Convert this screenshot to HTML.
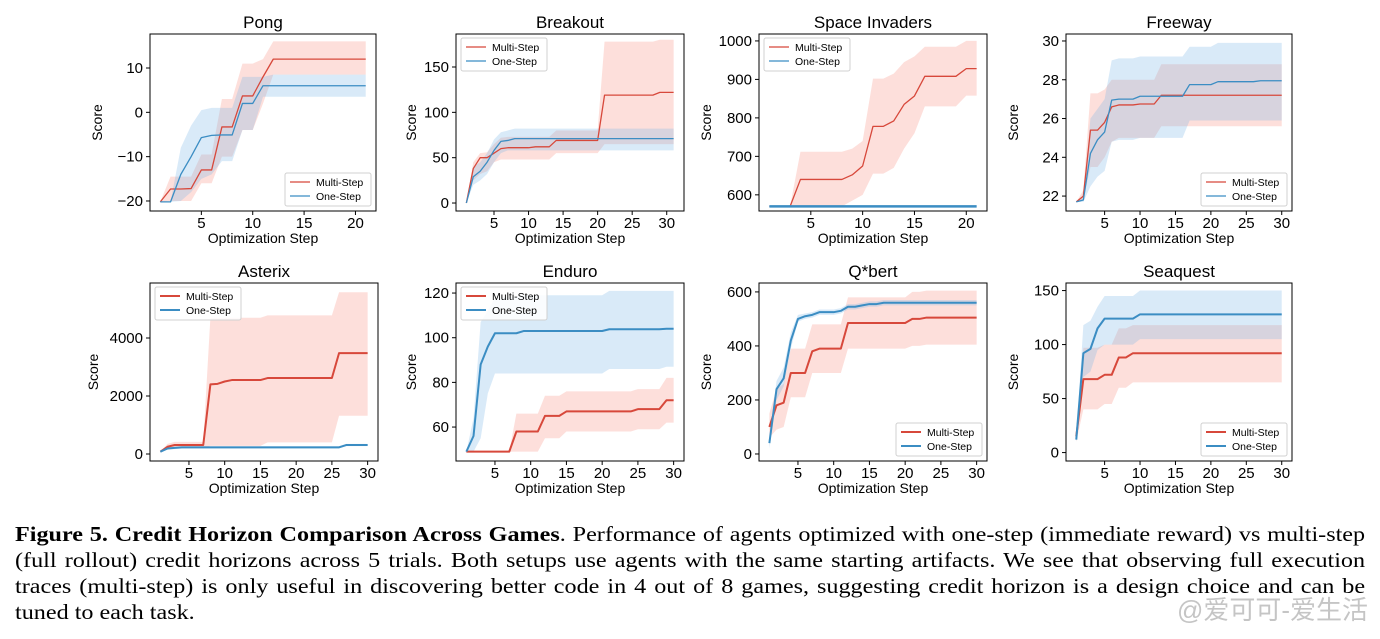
<!DOCTYPE html>
<html><head><meta charset="utf-8">
<style>
body{margin:0;background:#fff;width:1380px;height:639px;overflow:hidden;position:relative;font-family:"Liberation Sans",sans-serif}
svg{position:absolute;left:0;top:0}
.cap{position:absolute;left:15px;width:1174px;font-family:"Liberation Serif",serif;font-size:21px;line-height:26px;color:#000;transform:scale(1.15,1);transform-origin:0 0}
.cap div{text-align:justify;text-align-last:justify;white-space:nowrap}
.cap div.last{text-align-last:left}
.wm{position:absolute;right:12px;top:590px;font-family:"Liberation Sans","Noto Sans CJK SC",sans-serif;font-size:26px;color:rgba(150,150,150,0.55)}
</style></head>
<body>
<svg id="fig" width="1380" height="639"></svg>
<div class="cap" style="top:521px">
<div><b>Figure 5. Credit Horizon Comparison Across Games</b>. Performance of agents optimized with one-step (immediate reward) vs multi-step</div>
<div>(full rollout) credit horizons across 5 trials. Both setups use agents with the same starting artifacts. We see that observing full execution</div>
<div>traces (multi-step) is only useful in discovering better code in 4 out of 8 games, suggesting credit horizon is a design choice and can be</div>
<div class="last">tuned to each task.</div>
</div>
<div class="wm">@爱可可-爱生活</div>
<script>
const pongMulti=[-20.2,-17.3,-17.3,-17.2,-13,-13,-3.3,-3.3,3.7,3.7,8,12,12,12,12,12,12,12,12,12,12];
const pongMultiLo=[-20.2,-20,-20,-20,-16,-16,-10,-10,-4,-4,2,8.5,8.5,8.5,8.5,8.5,8.5,8.5,8.5,8.5,8.5];
const pongMultiHi=[-20.2,-14.5,-14.5,-14.5,-9.5,-9.5,3,3,11,11,12,16,16,16,16,16,16,16,16,16,16];
const pongOne=[-20.2,-20.2,-14,-10,-5.7,-5.2,-5.1,-5.1,2,2,6,6,6,6,6,6,6,6,6,6,6];
const pongOneLo=[-20.2,-20.2,-20,-18,-15,-14,-11,-11,-4,-4,3.5,3.5,3.5,3.5,3.5,3.5,3.5,3.5,3.5,3.5,3.5];
const pongOneHi=[-20.2,-20.2,-8,-3,0.5,1,1,1,8,8,8,8.5,8.5,8.5,8.5,8.5,8.5,8.5,8.5,8.5,8.5];

const brkMulti=[0,38,50,50,55,60,61,61,61,61,62,62,62,69,69,69,69,69,69,69,119,119,119,119,119,119,119,119,122,122,122];
const brkMultiLo=[0,25,32,35,45,48,48,48,48,48,48,48,48,55,55,55,55,55,55,55,65,65,65,65,65,65,65,65,65,65,65];
const brkMultiHi=[0,45,55,56,65,72,73,73,73,73,73,73,73,80,80,80,80,80,80,80,178,178,178,178,178,178,178,178,180,180,180];
const brkOne=[0,29,35,45,58,68,69,71,71,71,71,71,71,71,71,71,71,71,71,71,71,71,71,71,71,71,71,71,71,71,71];
const brkOneLo=[0,20,25,32,45,55,58,58,58,58,58,58,58,58,58,58,58,58,58,58,58,58,58,58,58,58,58,58,58,58,58];
const brkOneHi=[0,40,45,55,70,78,80,82,82,82,82,82,82,82,82,82,82,82,82,82,82,82,82,82,82,82,82,82,82,82,82];

const siMulti=[570,570,570,640,640,640,640,640,652,675,778,778,792,835,857,908,908,908,908,928,928];
const siMultiLo=[570,570,570,570,570,570,570,570,585,600,655,655,670,720,760,830,830,830,830,858,858];
const siMultiHi=[570,570,570,712,712,712,712,712,720,740,902,902,915,945,960,985,985,985,985,1000,1000];
const siOne=[570,570,570,570,570,570,570,570,570,570,570,570,570,570,570,570,570,570,570,570,570];
const siOneLo=[568,568,568,568,568,568,568,568,568,568,568,568,568,568,568,568,568,568,568,568,568];
const siOneHi=[572,572,572,572,572,572,572,572,572,572,572,572,572,572,572,572,572,572,572,572,572];

const fwMulti=[21.7,22,25.4,25.4,25.8,26.6,26.7,26.7,26.7,26.75,26.75,26.75,27.2,27.2,27.2,27.2,27.2,27.2,27.2,27.2,27.2,27.2,27.2,27.2,27.2,27.2,27.2,27.2,27.2,27.2];
const fwMultiLo=[21.7,21.8,23.5,23.5,24,24.8,25,25,25,25,25,25,25.6,25.6,25.6,25.6,25.6,25.6,25.6,25.6,25.6,25.6,25.6,25.6,25.6,25.6,25.6,25.6,25.6,25.6];
const fwMultiHi=[21.7,22.3,27.3,27.3,27.5,28,28,28,28,28,28,28,28.8,28.8,28.8,28.8,28.8,28.8,28.8,28.8,28.8,28.8,28.8,28.8,28.8,28.8,28.8,28.8,28.8,28.8];
const fwOne=[21.7,21.8,24.2,24.9,25.3,26.95,27,27,27,27.15,27.15,27.15,27.15,27.15,27.15,27.15,27.75,27.75,27.75,27.75,27.9,27.9,27.9,27.9,27.9,27.9,27.95,27.95,27.95,27.95];
const fwOneLo=[21.7,21.7,22.5,23,23.3,24.8,24.9,24.9,24.9,25,25,25,25,25,25,25,25.9,25.9,25.9,25.9,25.9,25.9,25.9,25.9,25.9,25.9,25.9,25.9,25.9,25.9];
const fwOneHi=[21.7,22,26,26.5,27,29,29.1,29.1,29.1,29.2,29.2,29.2,29.2,29.2,29.2,29.2,29.7,29.7,29.7,29.7,29.9,29.9,29.9,29.9,29.9,29.9,29.9,29.9,29.9,29.9];

const astMulti=[80,250,310,310,310,310,310,2400,2420,2500,2550,2550,2550,2550,2550,2620,2620,2620,2620,2620,2620,2620,2620,2620,2620,3480,3480,3480,3480,3480];
const astMultiLo=[80,150,200,200,200,200,200,280,280,280,280,280,280,280,280,400,400,400,400,400,400,400,400,400,400,1320,1320,1320,1320,1320];
const astMultiHi=[80,350,420,420,420,420,420,4700,4700,4700,4700,4700,4700,4700,4700,4780,4780,4780,4780,4780,4780,4780,4780,4780,4780,5580,5580,5580,5580,5580];
const astOne=[80,190,210,230,230,230,230,230,230,230,230,230,230,230,230,230,230,230,230,230,230,230,230,230,230,230,310,310,310,310];
const astOneLo=[70,150,170,190,190,190,190,190,190,190,190,190,190,190,190,190,190,190,190,190,190,190,190,190,190,190,270,270,270,270];
const astOneHi=[90,230,250,270,270,270,270,270,270,270,270,270,270,270,270,270,270,270,270,270,270,270,270,270,270,270,350,350,350,350];

const endMulti=[49,49,49,49,49,49,49,58,58,58,58,65,65,65,67,67,67,67,67,67,67,67,67,67,68,68,68,68,72,72];
const endMultiLo=[49,49,49,49,49,49,49,49,49,49,49,55,55,55,58,58,58,58,58,58,58,58,58,58,59,59,59,59,62,62];
const endMultiHi=[49,49,49,49,49,49,49,66,66,66,66,74,74,74,76,76,76,76,76,76,76,76,76,76,77,77,77,77,82,82];
const endOne=[49,56,88,96,102,102,102,102,103,103,103,103,103,103,103,103,103,103,103,103,103.8,103.8,103.8,103.8,103.8,103.8,103.8,103.8,104,104];
const endOneLo=[49,49,55,75,84,84,84,84,84,84,84,84,84,84,84,84,84,84,84,84,86,86,86,86,86,86,86,86,87,87];
const endOneHi=[49,64,107,112,118,118,118,118,119,119,119,119,119,119,119,119,119,119,119,119,121,121,121,121,121,121,121,121,121,121];

const qbMulti=[100,180,190,300,300,300,380,390,390,390,390,485,485,485,485,485,485,485,485,485,500,500,505,505,505,505,505,505,505,505];
const qbMultiLo=[60,90,100,210,210,210,300,300,300,300,300,390,390,390,390,390,390,390,390,390,400,400,405,405,405,405,405,405,405,405];
const qbMultiHi=[150,240,260,390,390,390,480,480,480,480,480,580,580,580,580,580,580,580,580,580,600,600,605,605,605,605,605,605,605,605];
const qbOne=[40,240,280,420,500,510,515,525,525,525,530,545,545,550,555,555,560,560,560,560,560,560,560,560,560,560,560,560,560,560];
const qbOneLo=[20,200,250,390,490,500,505,515,515,515,520,535,535,540,545,545,550,550,550,550,550,550,550,550,550,550,550,550,550,550];
const qbOneHi=[60,270,320,450,515,520,525,535,535,535,540,555,555,560,565,565,570,570,570,570,570,570,570,570,570,570,570,570,570,570];

const sqMulti=[15,68,68,68,72,72,88,88,92,92,92,92,92,92,92,92,92,92,92,92,92,92,92,92,92,92,92,92,92,92];
const sqMultiLo=[10,40,40,40,45,45,60,60,65,65,65,65,65,65,65,65,65,65,65,65,65,65,65,65,65,65,65,65,65,65];
const sqMultiHi=[20,97,97,97,100,100,115,115,118,118,118,118,118,118,118,118,118,118,118,118,118,118,118,118,118,118,118,118,118,118];
const sqOne=[12,92,96,115,124,124,124,124,124,128,128,128,128,128,128,128,128,128,128,128,128,128,128,128,128,128,128,128,128,128];
const sqOneLo=[10,70,75,95,100,100,100,100,100,105,105,105,105,105,105,105,105,105,105,105,105,105,105,105,105,105,105,105,105,105];
const sqOneHi=[15,118,122,135,145,145,145,145,145,150,150,150,150,150,150,150,150,150,150,150,150,150,150,150,150,150,150,150,150,150];

const xTicks21=[5,10,15,20];
const xTicks30=[5,10,15,20,25,30];
const pongYTicks=[-20,-10,0,10];
const brkYTicks=[0,50,100,150];
const siYTicks=[600,700,800,900,1000];
const fwYTicks=[22,24,26,28,30];
const astYTicks=[0,2000,4000];
const endYTicks=[60,80,100,120];
const qbYTicks=[0,200,400,600];
const sqYTicks=[0,50,100,150];

const RED="#d7483b",BLUE="#3b8dc3",REDF="rgba(247,140,125,0.28)",BLUEF="rgba(120,180,230,0.28)";
const svg=document.getElementById('fig');
const NS="http://www.w3.org/2000/svg";
function mk(tag,attrs,parent){const e=document.createElementNS(NS,tag);for(const k in attrs)e.setAttribute(k,attrs[k]);(parent||svg).appendChild(e);return e;}

const charts=[
 {name:'pong',title:'Pong',box:[150,34,376,211],xd:[0,22],yd:[-22.26,17.67],xt:xTicks21,yt:pongYTicks,leg:'lr',lw:1.3,
  m:pongMulti,ml:pongMultiLo,mh:pongMultiHi,o:pongOne,ol:pongOneLo,oh:pongOneHi},
 {name:'breakout',title:'Breakout',box:[456,34,684,211],xd:[-0.5,32.5],yd:[-8.8,186.4],xt:xTicks30,yt:brkYTicks,leg:'ul',lw:1.3,
  m:brkMulti,ml:brkMultiLo,mh:brkMultiHi,o:brkOne,ol:brkOneLo,oh:brkOneHi},
 {name:'space-invaders',title:'Space Invaders',box:[759,34,987,211],xd:[0,22],yd:[558,1018],xt:xTicks21,yt:siYTicks,leg:'ul',lw:1.3,
  m:siMulti,ml:siMultiLo,mh:siMultiHi,o:siOne,ol:siOneLo,oh:siOneHi,oneW:2.5},
 {name:'freeway',title:'Freeway',box:[1066,34,1292,211],xd:[-0.45,31.45],yd:[21.23,30.36],xt:xTicks30,yt:fwYTicks,leg:'lr',lw:1.3,
  m:fwMulti,ml:fwMultiLo,mh:fwMultiHi,o:fwOne,ol:fwOneLo,oh:fwOneHi},
 {name:'asterix',title:'Asterix',box:[150,283,378,461],xd:[-0.45,31.45],yd:[-241,5897],xt:xTicks30,yt:astYTicks,leg:'ul',lw:2,
  m:astMulti,ml:astMultiLo,mh:astMultiHi,o:astOne,ol:astOneLo,oh:astOneHi},
 {name:'enduro',title:'Enduro',box:[456,283,684,461],xd:[-0.45,31.45],yd:[44.8,124.5],xt:xTicks30,yt:endYTicks,leg:'ul',lw:2,
  m:endMulti,ml:endMultiLo,mh:endMultiHi,o:endOne,ol:endOneLo,oh:endOneHi},
 {name:'qbert',title:'Q*bert',box:[759,283,987,461],xd:[-0.45,31.45],yd:[-26,633],xt:xTicks30,yt:qbYTicks,leg:'lr',lw:2,
  m:qbMulti,ml:qbMultiLo,mh:qbMultiHi,o:qbOne,ol:qbOneLo,oh:qbOneHi},
 {name:'seaquest',title:'Seaquest',box:[1066,283,1292,461],xd:[-0.45,31.45],yd:[-7.8,157],xt:xTicks30,yt:sqYTicks,leg:'lr',lw:2,
  m:sqMulti,ml:sqMultiLo,mh:sqMultiHi,o:sqOne,ol:sqOneLo,oh:sqOneHi}
];

charts.forEach(c=>{
 const [x0,y0,x1,y1]=c.box;
 const g=mk('g',{});
 
 
 const X=v=>x0+(v-c.xd[0])/(c.xd[1]-c.xd[0])*(x1-x0);
 const Y=v=>y1-(v-c.yd[0])/(c.yd[1]-c.yd[0])*(y1-y0);
 function band(lo,hi,fill,nm){
  let d='M'+lo.map((v,i)=>X(i+1)+','+Y(v)).join('L');
  for(let i=hi.length-1;i>=0;i--)d+='L'+X(i+1)+','+Y(hi[i]);
  const p=mk('path',{d:d+'Z',fill:fill},g);
  
  
 }
 function line(vals,col,nm,w){
  const p=mk('path',{d:'M'+vals.map((v,i)=>X(i+1)+','+Y(v)).join('L'),fill:'none',stroke:col,'stroke-width':w,'stroke-linejoin':'round'},g);
  
  
 }
 band(c.ml,c.mh,REDF,'multi-step-band');
 band(c.ol,c.oh,BLUEF,'one-step-band');
 line(c.m,RED,'multi-step-line',c.lw);
 line(c.o,BLUE,'one-step-line',c.oneW||c.lw);
 const fr=mk('rect',{x:x0,y:y0,width:x1-x0,height:y1-y0,fill:'none',stroke:'#000','stroke-width':1},g);
 
 
 c.xt.forEach(t=>{
  mk('line',{x1:X(t),x2:X(t),y1:y1,y2:y1+4,stroke:'#000'},g);
  const tx=mk('text',{x:X(t),y:y1+17,'font-size':15,'text-anchor':'middle'},g);
  tx.textContent=t;
  
  
 });
 c.yt.forEach(t=>{
  mk('line',{x1:x0-4,x2:x0,y1:Y(t),y2:Y(t),stroke:'#000'},g);
  const tx=mk('text',{x:x0-7,y:Y(t)+5,'font-size':15,'text-anchor':'end'},g);
  tx.textContent=t<0?'\u2212'+Math.abs(t):t;
  
  
 });
 const tt=mk('text',{x:(x0+x1)/2,y:y0-6,'font-size':17,'text-anchor':'middle'},g);
 tt.textContent=c.title;
 
 
 const xl=mk('text',{x:(x0+x1)/2,y:y1+32,'font-size':14,'text-anchor':'middle'},g);
 xl.textContent='Optimization Step';
 
 
 const yx=x0-(c.name==='space-invaders'?48:(c.name==='asterix'?52:(c.name==='breakout'||c.name==='enduro'?40:48)));
 const yl=mk('text',{x:yx,y:(y0+y1)/2,'font-size':14,'text-anchor':'middle',transform:`rotate(-90 ${yx} ${(y0+y1)/2})`},g);
 yl.textContent='Score';
 
 
 const lw=86,lh=33;
 const lx=c.leg==='ul'?x0+5:x1-lw-5, ly=c.leg==='ul'?y0+4:y1-lh-5;
 const lg=mk('g',{},g);
 
 
 mk('rect',{x:lx,y:ly,width:lw,height:lh,rx:2,fill:'rgba(255,255,255,0.85)',stroke:'#d0d0d0'},lg);
 [['Multi-Step',RED],['One-Step',BLUE]].forEach((e,i)=>{
  const yy=ly+9+i*14;
  mk('line',{x1:lx+5,x2:lx+25,y1:yy,y2:yy,stroke:e[1],'stroke-width':c.lw},lg);
  const t=mk('text',{x:lx+31,y:yy+4,'font-size':10.5},lg);
  t.textContent=e[0];
  
  
 });
});
</script>
</body></html>
